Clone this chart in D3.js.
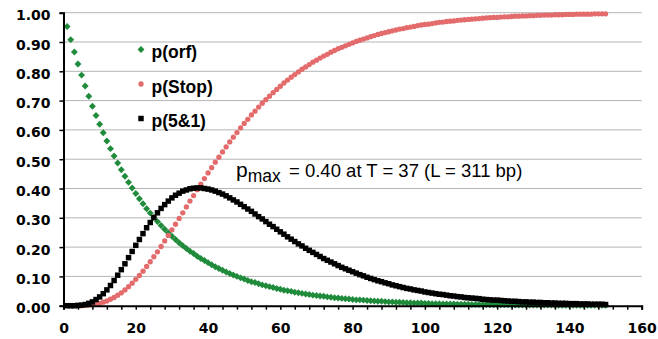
<!DOCTYPE html>
<html>
<head>
<meta charset="utf-8">
<script src="https://cdn.jsdelivr.net/npm/d3@7"></script>
<style>
  html, body { margin: 0; padding: 0; background: #fff; }
  svg { display: block; }
</style>
</head>
<body>
<div id="chart"></div>
<script>
// Data (T = 1 .. 150)
const pOrf = [
  0.953,0.908,0.866,0.825,0.787,0.750,0.715,0.681,0.649,0.619,
  0.590,0.562,0.536,0.511,0.487,0.464,0.442,0.421,0.402,0.383,
  0.365,0.348,0.331,0.316,0.301,0.287,0.274,0.261,0.249,0.237,
  0.226,0.215,0.205,0.195,0.186,0.178,0.169,0.161,0.154,0.147,
  0.140,0.133,0.127,0.121,0.115,0.110,0.105,0.100,0.095,0.091,
  0.086,0.082,0.079,0.075,0.071,0.068,0.065,0.062,0.059,0.056,
  0.053,0.051,0.049,0.046,0.044,0.042,0.040,0.038,0.036,0.035,
  0.033,0.032,0.030,0.029,0.027,0.026,0.025,0.024,0.023,0.021,
  0.020,0.020,0.019,0.018,0.017,0.016,0.015,0.015,0.014,0.013,
  0.013,0.012,0.012,0.011,0.010,0.010,0.009,0.009,0.009,0.008,
  0.008,0.007,0.007,0.007,0.006,0.006,0.006,0.006,0.005,0.005,
  0.005,0.005,0.004,0.004,0.004,0.004,0.004,0.003,0.003,0.003,
  0.003,0.003,0.003,0.003,0.002,0.002,0.002,0.002,0.002,0.002,
  0.002,0.002,0.002,0.002,0.002,0.001,0.001,0.001,0.001,0.001,
  0.001,0.001,0.001,0.001,0.001,0.001,0.001,0.001,0.001,0.001
];
const pStop = [
  0.000,0.000,0.000,0.000,0.000,0.001,0.002,0.003,0.005,0.008,
  0.012,0.016,0.022,0.028,0.036,0.044,0.054,0.065,0.077,0.090,
  0.103,0.118,0.134,0.150,0.167,0.184,0.202,0.221,0.240,0.259,
  0.278,0.298,0.317,0.337,0.357,0.376,0.396,0.415,0.434,0.453,
  0.471,0.490,0.507,0.525,0.542,0.559,0.575,0.591,0.607,0.622,
  0.636,0.651,0.664,0.678,0.691,0.703,0.715,0.727,0.738,0.749,
  0.760,0.770,0.780,0.789,0.798,0.807,0.815,0.823,0.831,0.838,
  0.845,0.852,0.858,0.865,0.871,0.877,0.882,0.887,0.892,0.897,
  0.902,0.906,0.910,0.914,0.918,0.922,0.926,0.929,0.932,0.935,
  0.938,0.941,0.944,0.946,0.949,0.951,0.953,0.956,0.958,0.960,
  0.961,0.963,0.965,0.967,0.968,0.970,0.971,0.972,0.974,0.975,
  0.976,0.977,0.978,0.979,0.980,0.981,0.982,0.983,0.984,0.984,
  0.985,0.986,0.986,0.987,0.988,0.988,0.989,0.989,0.990,0.990,
  0.991,0.991,0.992,0.992,0.992,0.993,0.993,0.993,0.994,0.994,
  0.994,0.995,0.995,0.995,0.995,0.995,0.996,0.996,0.996,0.996
];
const p5and1 = [
  0.000,0.000,0.000,0.001,0.002,0.004,0.008,0.013,0.021,0.030,
  0.041,0.054,0.069,0.086,0.104,0.123,0.143,0.164,0.185,0.206,
  0.226,0.246,0.266,0.284,0.301,0.317,0.332,0.345,0.357,0.368,
  0.377,0.384,0.391,0.395,0.399,0.401,0.402,0.402,0.400,0.398,
  0.395,0.391,0.386,0.381,0.375,0.368,0.361,0.354,0.346,0.338,
  0.330,0.322,0.313,0.304,0.296,0.287,0.278,0.270,0.261,0.252,
  0.244,0.235,0.227,0.219,0.211,0.204,0.196,0.189,0.182,0.175,
  0.168,0.161,0.155,0.149,0.143,0.137,0.131,0.126,0.121,0.116,
  0.111,0.106,0.102,0.097,0.093,0.089,0.085,0.082,0.078,0.075,
  0.071,0.068,0.065,0.062,0.059,0.057,0.054,0.052,0.050,0.047,
  0.045,0.043,0.041,0.039,0.038,0.036,0.034,0.033,0.031,0.030,
  0.028,0.027,0.026,0.025,0.024,0.022,0.021,0.020,0.019,0.019,
  0.018,0.017,0.016,0.015,0.015,0.014,0.013,0.013,0.012,0.012,
  0.011,0.011,0.010,0.010,0.009,0.009,0.008,0.008,0.008,0.007,
  0.007,0.007,0.006,0.006,0.006,0.005,0.005,0.005,0.005,0.004
];
const seriesNames = ["p(orf)", "p(Stop)", "p(5&1)"];
const xTicks = [0, 20, 40, 60, 80, 100, 120, 140, 160];
const yTicks = [0, 0.1, 0.2, 0.3, 0.4, 0.5, 0.6, 0.7, 0.8, 0.9, 1.0];

const W = 658, H = 339;
const plotLeft = 63.5, plotRight = 641.7, plotTop = 12.7, plotBottom = 305.7;

const svg = d3.select("#chart").append("svg")
  .attr("width", W)
  .attr("height", H);

const x = d3.scaleLinear().domain([0, 160]).range([plotLeft, plotRight]);
const y = d3.scaleLinear().domain([0, 1]).range([plotBottom, plotTop]);

// Gridlines
svg.append("g")
  .selectAll("line")
  .data(yTicks.slice(1))
  .join("line")
  .attr("x1", plotLeft).attr("x2", plotRight)
  .attr("y1", d => y(d)).attr("y2", d => y(d))
  .attr("stroke", "#b4b4b4")
  .attr("stroke-width", 1);

// Series (diamond = square turned 45 degrees)
const series = [
  { name: seriesNames[0], values: pOrf, color: "#1f8b3b", shape: d3.symbolSquare, size: 24, rot: 45 },
  { name: seriesNames[1], values: pStop, color: "#e36b6b", shape: d3.symbolCircle, size: 22, rot: 0 },
  { name: seriesNames[2], values: p5and1, color: "#000000", shape: d3.symbolSquare, size: 30, rot: 0 }
];

series.forEach(s => {
  svg.append("g")
    .selectAll("path")
    .data(s.values)
    .join("path")
    .attr("transform", (d, i) => `translate(${x(i + 1)},${y(d)}) rotate(${s.rot})`)
    .attr("d", d3.symbol().type(s.shape).size(s.size))
    .attr("fill", s.color);
});

// Axes
const yAxis = svg.append("g")
  .attr("transform", `translate(${plotLeft},0)`)
  .call(d3.axisLeft(y).tickValues(yTicks).tickSize(4).tickFormat(d3.format(".2f")));
yAxis.select(".domain").attr("stroke-width", 2);
yAxis.selectAll(".tick line").attr("stroke-width", 1.5);
yAxis.selectAll("text")
  .attr("x", -13)
  .attr("dy", "0.5em")
  .style("font-family", "DejaVu Sans")
  .style("font-weight", "bold")
  .style("font-size", "14px")
  .attr("fill", "#000");

const xAxis = svg.append("g")
  .attr("transform", `translate(0,${plotBottom})`)
  .call(d3.axisBottom(x).tickValues(d3.range(0, 161, 4)).tickSize(4)
    .tickFormat(d => xTicks.includes(d) ? d : ""));
xAxis.select(".domain").attr("stroke-width", 2);
xAxis.selectAll(".tick line").attr("stroke-width", 1.5);
xAxis.selectAll("text")
  .attr("y", 17)
  .style("font-family", "DejaVu Sans")
  .style("font-weight", "bold")
  .style("font-size", "14px")
  .attr("fill", "#000");
svg.selectAll(".domain").attr("stroke", "#000");

// Legend
const legend = svg.append("g");
series.forEach((s, i) => {
  const cy = 49.5 + i * 34.5;
  legend.append("path")
    .attr("transform", `translate(141,${cy}) rotate(${s.rot})`)
    .attr("d", d3.symbol().type(s.shape).size(s.size))
    .attr("fill", s.color);
  legend.append("text")
    .attr("x", 151.5)
    .attr("y", cy + 8.5)
    .style("font-family", "Liberation Sans, Arial, sans-serif")
    .style("font-weight", "bold")
    .style("font-size", "17.5px")
    .text(s.name);
});

// Annotation
const note = svg.append("text")
  .attr("x", 236)
  .attr("y", 176.5)
  .style("font-family", "Liberation Sans, Arial, sans-serif")
  .attr("fill", "#000");
note.append("tspan").style("font-size", "21px").text("p");
note.append("tspan").style("font-size", "17.5px").attr("dy", 5).text("max");
note.append("tspan").attr("x", 289).attr("dy", -5).style("font-size", "18.5px")
  .text("= 0.40 at T = 37 (L = 311 bp)");
</script>
</body>
</html>
